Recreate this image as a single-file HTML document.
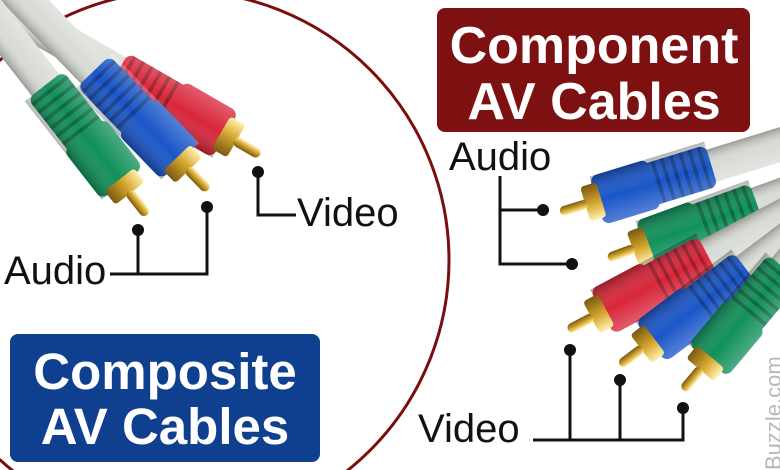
<!DOCTYPE html>
<html><head><meta charset="utf-8"><style>
html,body{margin:0;padding:0;background:#fff;width:780px;height:470px;overflow:hidden;}
svg{display:block;}
text{font-family:"Liberation Sans",sans-serif;}
</style></head><body>
<svg width="780" height="470" viewBox="0 0 780 470" xmlns="http://www.w3.org/2000/svg">
<defs>
<linearGradient id="gold" x1="0" y1="0" x2="0" y2="1">
<stop offset="0" stop-color="#fff2b0"/><stop offset="0.45" stop-color="#d6a630"/><stop offset="1" stop-color="#7a5a10"/>
</linearGradient>
<linearGradient id="shade" x1="0" y1="0" x2="0" y2="1">
<stop offset="0" stop-color="#fff" stop-opacity="0.25"/><stop offset="0.5" stop-color="#fff" stop-opacity="0"/><stop offset="1" stop-color="#000" stop-opacity="0.3"/>
</linearGradient>
<g id="plug">
<rect x="-420" y="-14" width="295" height="28" fill="#d9dcd6"/>
<rect x="-420" y="-14" width="295" height="28" fill="url(#shade)"/>
<rect x="-132" y="-18" width="56" height="36" rx="6" fill="currentColor"/>
<g stroke="#000" stroke-opacity="0.28" stroke-width="3">
<line x1="-126" y1="-18" x2="-126" y2="18"/><line x1="-118" y1="-18" x2="-118" y2="18"/><line x1="-110" y1="-18" x2="-110" y2="18"/><line x1="-102" y1="-18" x2="-102" y2="18"/><line x1="-94" y1="-18" x2="-94" y2="18"/><line x1="-86" y1="-18" x2="-86" y2="18"/>
</g>
<rect x="-82" y="-21" width="50" height="42" rx="6" fill="currentColor"/>
<rect x="-132" y="-21" width="100" height="42" fill="url(#shade)"/>
<rect x="-36" y="-15" width="14" height="30" rx="3" fill="url(#gold)"/>
<rect x="-24" y="-4" width="24" height="8" rx="4" fill="url(#gold)"/>
</g>
</defs>
<rect width="780" height="470" fill="#fff"/>
<circle cx="180" cy="260" r="269" fill="none" stroke="#7a0d0d" stroke-width="3"/>

<!-- left plugs -->
<use href="#plug" color="#d8263a" transform="translate(260,155) rotate(30) scale(1.25)"/>
<use href="#plug" color="#1a56c8" transform="translate(208,190) rotate(46) scale(1.25)"/>
<use href="#plug" color="#11905a" transform="translate(147,215) rotate(52) scale(1.25)"/>

<!-- right plugs -->
<use href="#plug" color="#1a56c8" transform="translate(560,212) rotate(163) scale(1.2)"/>
<use href="#plug" color="#11905a" transform="translate(608,258) rotate(160) scale(1.2)"/>
<use href="#plug" color="#d8263a" transform="translate(568,330) rotate(152) scale(1.2)"/>
<use href="#plug" color="#1a56c8" transform="translate(620,365) rotate(143) scale(1.2)"/>
<use href="#plug" color="#11905a" transform="translate(683,390) rotate(130) scale(1.2)"/>

<!-- connectors -->
<g stroke="#111" stroke-width="3" fill="none">
<polyline points="110,274 207,274 207,207"/>
<line x1="138" y1="230" x2="138" y2="274"/>
<polyline points="258,172 258,215 296,215"/>
<polyline points="543,210 500,210 500,176"/>
<polyline points="500,210 500,264 572,264"/>
<polyline points="533,440 683,440 683,408"/>
<line x1="570" y1="350" x2="570" y2="440"/>
<line x1="620" y1="380" x2="620" y2="440"/>
</g>
<g fill="#111">
<circle cx="138" cy="230" r="6"/><circle cx="207" cy="207" r="6"/><circle cx="258" cy="172" r="6"/>
<circle cx="543" cy="210" r="6"/><circle cx="572" cy="264" r="6"/>
<circle cx="570" cy="350" r="6"/><circle cx="620" cy="380" r="6"/><circle cx="683" cy="408" r="6"/>
</g>
<g font-size="40" fill="#111">
<text x="4" y="284">Audio</text>
<text x="297" y="226">Video</text>
<text x="449" y="170">Audio</text>
<text x="418" y="442">Video</text>
</g>

<rect x="437" y="8" width="313" height="124" rx="8" fill="#7d1010"/>
<text x="594" y="63" text-anchor="middle" font-size="52" font-weight="bold" fill="#fff">Component</text>
<text x="594" y="119" text-anchor="middle" font-size="52" font-weight="bold" fill="#fff">AV Cables</text>

<rect x="10" y="334" width="310" height="128" rx="8" fill="#0f3f8f"/>
<text x="165" y="389" text-anchor="middle" font-size="51" font-weight="bold" fill="#fff">Composite</text>
<text x="165" y="444" text-anchor="middle" font-size="51" font-weight="bold" fill="#fff">AV Cables</text>

<text transform="translate(781,470) rotate(-90)" font-size="22" fill="#b8b8b8">Buzzle.com</text>
</svg>
</body></html>
